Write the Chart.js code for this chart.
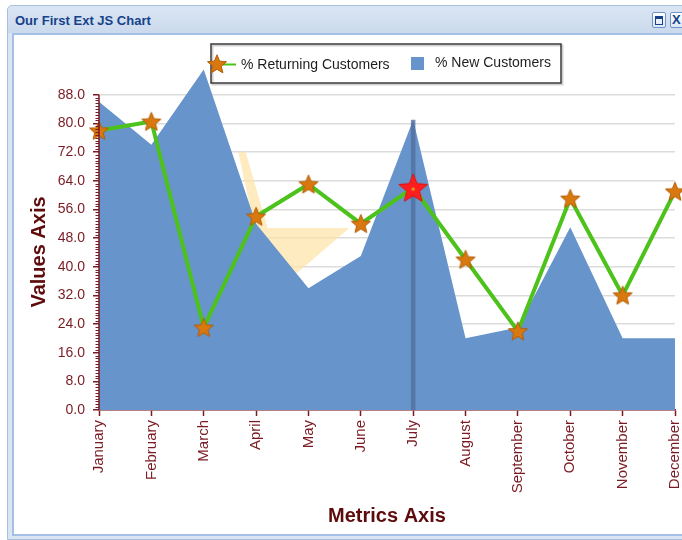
<!DOCTYPE html>
<html>
<head>
<meta charset="utf-8">
<title>Our First Ext JS Chart</title>
<script src="https://cdn.jsdelivr.net/npm/chart.js@4/dist/chart.umd.min.js"></script>
<style>
  html, body { margin: 0; padding: 0; background: #ffffff; }
  #wrap { position: relative; width: 682px; height: 540px; overflow: hidden; }
  .panel { position: absolute; left: 7px; top: 5px; width: 720px; height: 533px;
           border: 1px solid #a9bfdc; border-radius: 5px 5px 0 0; background: #d9e5f3; }
  .head { position: absolute; left: 0; top: 0; right: 0; height: 27px;
          background: linear-gradient(#dbe6f4, #cad9ec); border-radius: 5px 5px 0 0; }
  .title { position: absolute; left: 7px; top: 7px; font: bold 13px "Liberation Sans", Arial, sans-serif;
           color: #15428b; letter-spacing: 0; }
  .body { position: absolute; left: 4px; top: 27px; right: 4px; bottom: 3px; background: #ffffff;
          border: 2px solid #a4c0e6; }
  .tool { position: absolute; top: 6px; width: 12px; height: 14px; border: 1px solid #6f95c8;
          border-radius: 2px; background: linear-gradient(#ffffff, #dbe7f6); }
  .tool.max { left: 644px; }
  .tool.max i { position: absolute; left: 2px; top: 3px; width: 6px; height: 5px;
                border: 1px solid #15428b; border-top-width: 3px; }
  .tool.close { left: 662px; }
  .tool.close i { position: absolute; left: 1px; top: -1px; font: bold 13px "Liberation Sans", Arial, sans-serif;
                  color: #15428b; font-style: normal; }
  #chart { position: absolute; left: 0; top: 0; }
</style>
</head>
<body>
<div id="wrap">
  <div class="panel">
    <div class="head">
      <div class="title">Our First Ext JS Chart</div>
      <div class="tool max"><i></i></div>
      <div class="tool close"><i>X</i></div>
    </div>
    <div class="body"></div>
  </div>
  <canvas id="chart" width="682" height="540"></canvas>
</div>
<script>
// Categories and series
const months = ['January', 'February', 'March', 'April', 'May', 'June',
                'July', 'August', 'September', 'October', 'November', 'December'];
const returningCustomers = [78, 80.5, 23, 54, 63, 52, 62, 42, 22, 59, 32, 61];
const newCustomers = [86, 74, 95, 52, 34, 43, 81, 20, 23, 51, 20, 20];

// Value axis tick labels
const valueTicks = [0, 8, 16, 24, 32, 40, 48, 56, 64, 72, 80, 88];

// Highlighted month (selected point)
const highlightMonth = 'July';

// Faded highlight band left behind the area series (month position, value)
const bandX = [2.66, 2.80, 3.22, 4.78, 3.79, 3.46, 2.91];
const bandY = [72.1, 72.1, 50.8, 50.8, 38.3, 38.8, 55.0];

const MAROON = '#7a1a22';
const TITLE_MAROON = '#5e0b0b';
const AREA_BLUE = '#6794cb';
const LINE_GREEN = '#4cc21a';
const FONT = '"Liberation Sans", Arial, Helvetica, sans-serif';

function starSprite(R, fill, stroke, dot) {
  const s = Math.ceil(2 * R + 4);
  const c = document.createElement('canvas');
  c.width = s; c.height = s;
  const g = c.getContext('2d');
  g.translate(s / 2, s / 2 + R * 0.08);
  g.beginPath();
  for (let i = 0; i < 10; i++) {
    const rad = i % 2 ? R * 0.45 : R;
    const a = -Math.PI / 2 + i * Math.PI / 5;
    g.lineTo(rad * Math.cos(a), rad * Math.sin(a));
  }
  g.closePath();
  g.fillStyle = fill;
  g.fill();
  g.lineWidth = 1;
  g.strokeStyle = stroke;
  g.stroke();
  if (dot) {
    g.beginPath();
    g.arc(0, 0, 1.6, 0, Math.PI * 2);
    g.fillStyle = dot;
    g.fill();
  }
  return c;
}

const orangeStar = starSprite(10, '#d8780f', '#b25e05');
const redStar = starSprite(15, '#ff1e1e', '#e01010', '#d8a020');
const hiIndex = months.indexOf(highlightMonth);

const bandData = bandX.map((x, i) => ({ x: x, y: bandY[i] }));

// Decorations drawn on top of the plotted series
const decorations = {
  id: 'decorations',
  afterDatasetDraw(chart, args) {
    if (args.meta.label !== '% New Customers') return;
    const { ctx } = chart;
    const xs = chart.scales.x, ys = chart.scales.y;
    const x = xs.getPixelForValue(hiIndex);
    ctx.save();
    ctx.strokeStyle = 'rgba(78,110,155,0.75)';
    ctx.lineWidth = 4.5;
    ctx.beginPath();
    ctx.moveTo(x, ys.getPixelForValue(newCustomers[hiIndex]));
    ctx.lineTo(x, ys.getPixelForValue(0));
    ctx.stroke();
    ctx.restore();
  },
  afterDraw(chart) {
    const { ctx } = chart;
    const ys = chart.scales.y;
    const ax = chart.chartArea.left;
    const y0 = ys.getPixelForValue(valueTicks[0]);
    const yTop = ys.getPixelForValue(valueTicks[valueTicks.length - 1]);
    ctx.save();
    // value axis line
    ctx.strokeStyle = MAROON;
    ctx.lineWidth = 1.5;
    ctx.beginPath();
    ctx.moveTo(ax, y0);
    ctx.lineTo(ax, yTop);
    ctx.stroke();
    // minor ticks
    ctx.lineWidth = 1;
    const step = (valueTicks[1] - valueTicks[0]) / 10;
    for (let k = 0; k <= (valueTicks.length - 1) * 10; k++) {
      if (k % 10 === 0) continue;
      const py = Math.round(ys.getPixelForValue(k * step)) + 0.5;
      ctx.beginPath();
      ctx.moveTo(ax - 3.5, py);
      ctx.lineTo(ax, py);
      ctx.stroke();
    }
    // axis titles
    ctx.fillStyle = TITLE_MAROON;
    ctx.font = 'bold 20px ' + FONT;
    ctx.textAlign = 'center';
    ctx.textBaseline = 'middle';
    ctx.fillText('Metrics Axis', 387, 516);
    ctx.save();
    ctx.translate(39, 252);
    ctx.rotate(-Math.PI / 2);
    ctx.fillText('Values Axis', 0, 0);
    ctx.restore();

    // legend
    ctx.fillStyle = '#ffffff';
    ctx.fillRect(211, 44, 350, 39);
    ctx.strokeStyle = 'rgba(0,0,0,0.18)';
    ctx.lineWidth = 2;
    ctx.strokeRect(212.5, 45.5, 350, 39);
    ctx.strokeStyle = '#3a3a3a';
    ctx.lineWidth = 1.5;
    ctx.strokeRect(211, 44, 350, 39);
    ctx.strokeStyle = LINE_GREEN;
    ctx.lineWidth = 2;
    ctx.beginPath();
    ctx.moveTo(217, 64.5);
    ctx.lineTo(236, 64.5);
    ctx.stroke();
    ctx.drawImage(orangeStar, 217 - orangeStar.width / 2, 64 - orangeStar.height / 2);
    ctx.fillStyle = AREA_BLUE;
    ctx.fillRect(411, 57, 13, 13);
    ctx.fillStyle = '#1e1e1e';
    ctx.font = '14px ' + FONT;
    ctx.textAlign = 'left';
    ctx.textBaseline = 'alphabetic';
    ctx.fillText('% Returning Customers', 241, 69);
    ctx.fillText('% New Customers', 435, 67);
    ctx.restore();
  }
};

new Chart(document.getElementById('chart'), {
  type: 'line',
  data: {
    labels: months,
    datasets: [
      {
        label: '% Returning Customers',
        data: returningCustomers,
        borderColor: LINE_GREEN,
        borderWidth: 4,
        tension: 0,
        fill: false,
        pointStyle: (c) => (c.dataIndex === hiIndex ? redStar : orangeStar),
        pointRadius: 10,
        order: 0
      },
      {
        label: '% New Customers',
        data: newCustomers,
        backgroundColor: AREA_BLUE,
        borderWidth: 0,
        pointRadius: 0,
        tension: 0,
        fill: 'origin',
        order: 1
      },
      {
        label: 'band',
        data: bandData,
        xAxisID: 'x2',
        backgroundColor: 'rgba(253,226,165,0.7)',
        borderWidth: 0,
        pointRadius: 0,
        tension: 0,
        fill: 'shape',
        order: 2
      }
    ]
  },
  options: {
    responsive: false,
    animation: false,
    layout: { autoPadding: false, padding: { top: 66, right: 7, bottom: 0, left: 0 } },
    plugins: {
      legend: { display: false },
      tooltip: { enabled: false }
    },
    scales: {
      x: {
        type: 'category',
        grid: { drawOnChartArea: false, drawTicks: true, tickLength: 6, tickColor: MAROON, tickWidth: 1.5 },
        border: { display: true, color: MAROON, width: 1.5 },
        ticks: {
          autoSkip: false, minRotation: 90, maxRotation: 90, padding: 4,
          color: MAROON, font: { family: FONT, size: 15 }
        },
        afterFit(s) { s.height = 130; s.paddingLeft = 0; s.paddingRight = 0; }
      },
      x2: { type: 'linear', display: false, min: 0, max: months.length - 1 },
      y: {
        min: 0,
        max: 96,
        afterBuildTicks(s) { s.ticks = valueTicks.map(v => ({ value: v })); },
        grid: { color: '#dcdcdc', lineWidth: 1.5, drawTicks: true, tickLength: 6, tickColor: MAROON, tickWidth: 1.5 },
        border: { display: false },
        ticks: {
          padding: 8, color: MAROON, font: { family: FONT, size: 14 },
          callback: (v) => Number(v).toFixed(1)
        },
        afterFit(s) { s.width = 99; s.paddingTop = 0; s.paddingBottom = 0; }
      }
    }
  },
  plugins: [decorations]
});
</script>
</body>
</html>
